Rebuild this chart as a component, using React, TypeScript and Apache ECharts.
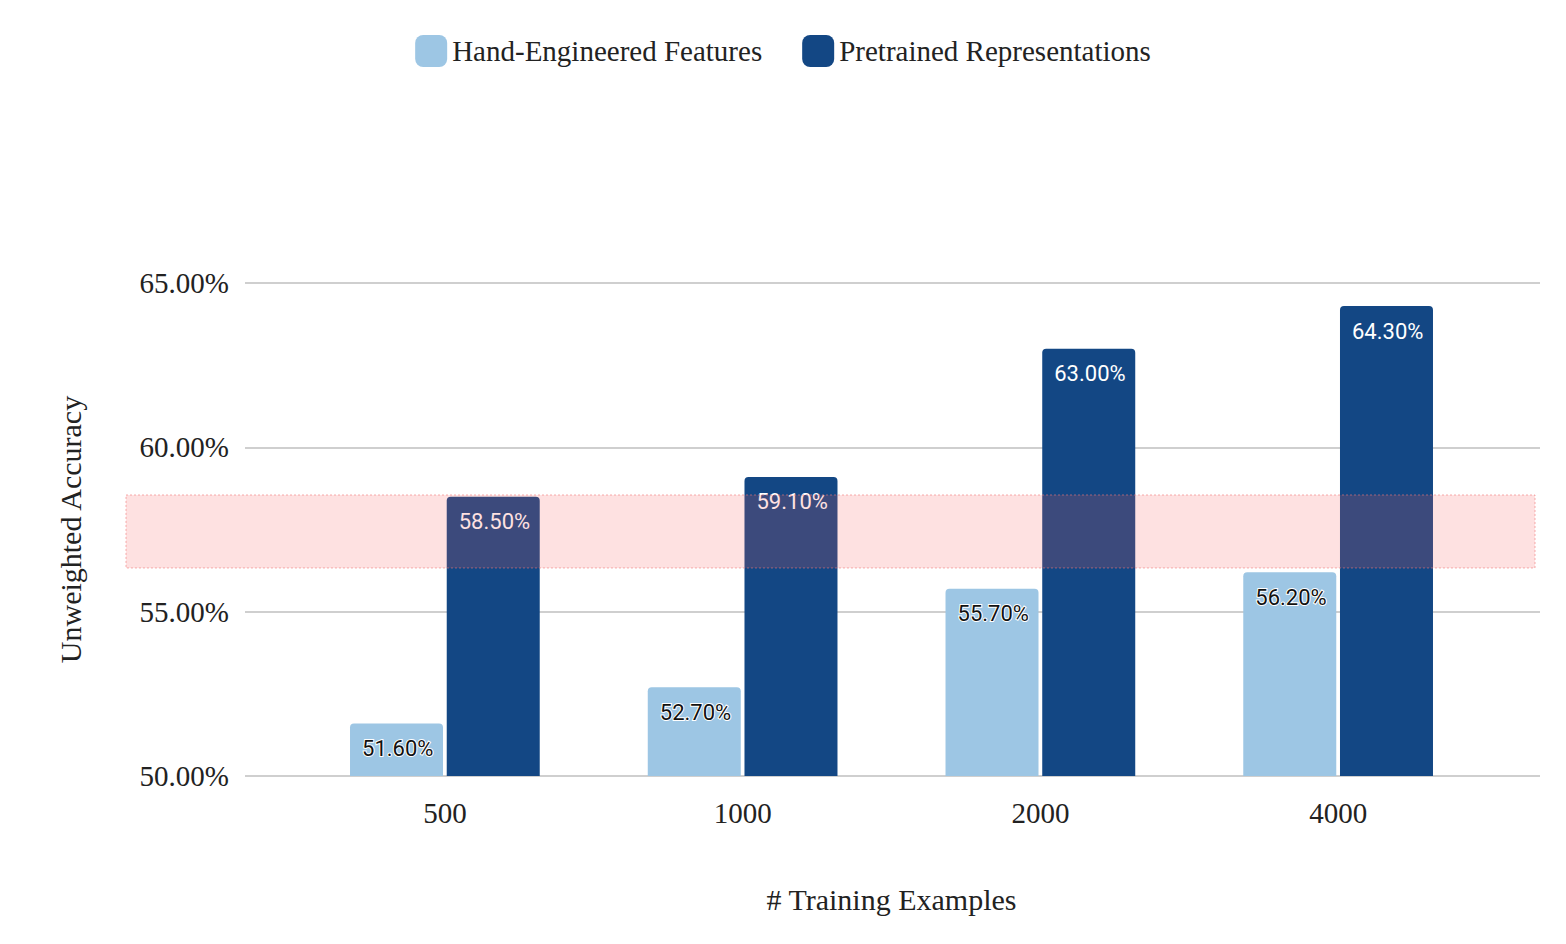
import { useEffect, useRef } from "react";
import * as echarts from "echarts";

const categories = ["500", "1000", "2000", "4000"];
const handEngineered = [51.6, 52.7, 55.7, 56.2];
const pretrained = [58.5, 59.1, 63.0, 64.3];
const bandRange = [56.33, 58.55];

const serif = "'Liberation Serif', 'DejaVu Serif', serif";

export default function App() {
  const ref = useRef<HTMLDivElement>(null);

  useEffect(() => {
    if (!ref.current) return;
    const chart = echarts.init(ref.current, null, { renderer: "svg" });
    const label = (color: string, border: string) => ({
      show: true,
      position: "insideTopLeft",
      distance: 14,
      offset: [-2, 0],
      fontFamily: "Roboto",
      fontSize: 22,
      color,
      textBorderColor: border,
      textBorderWidth: 2,
      formatter: (p: any) => p.value.toFixed(2) + "%",
    });
    chart.setOption({
      animation: false,
      legend: {
        top: 22,
        left: "center",
        itemWidth: 32,
        itemHeight: 32,
        itemGap: 40,
        textStyle: { fontFamily: serif, fontSize: 29, color: "#222" },
        data: ["Hand-Engineered Features", "Pretrained Representations"],
      },
      grid: [
        { left: 288, right: 71, top: 275, bottom: 160 },
        { left: 237, right: 18, top: 275, bottom: 160 },
      ],
      xAxis: [
        {
          type: "category",
          gridIndex: 0,
          data: categories,
          axisLine: { show: false },
          axisTick: { show: false },
          axisLabel: { fontFamily: serif, fontSize: 29, color: "#222", margin: 22 },
          name: "# Training Examples",
          nameLocation: "middle",
          nameGap: 108,
          nameTextStyle: { fontFamily: serif, fontSize: 30, color: "#222" },
        },
        { type: "category", gridIndex: 1, data: [""], show: false },
      ],
      yAxis: [
        { type: "value", gridIndex: 0, min: 50, max: 65, interval: 5, show: false },
        {
          type: "value",
          gridIndex: 1,
          min: 50,
          max: 65,
          interval: 5,
          axisLabel: {
            fontFamily: serif,
            fontSize: 29,
            color: "#222",
            margin: 16,
            formatter: (v: number) => v.toFixed(2) + "%",
          },
          splitLine: { lineStyle: { color: "#cfcfcf", width: 2 } },
          name: "Unweighted Accuracy",
          nameLocation: "middle",
          nameGap: 160,
          nameTextStyle: { fontFamily: serif, fontSize: 30, color: "#222" },
        },
      ],
      series: [
        {
          name: "Hand-Engineered Features",
          type: "bar",
          data: handEngineered,
          barWidth: 93,
          barGap: "4%",
          itemStyle: { color: "#9dc6e4", borderRadius: [4, 4, 0, 0] },
          label: label("#111", "#fff"),
        },
        {
          name: "Pretrained Representations",
          type: "bar",
          data: pretrained,
          barWidth: 93,
          itemStyle: { color: "#134784", borderRadius: [4, 4, 0, 0] },
          label: label("#fff", "#134784"),
          z: 3,
        },
      ],
    });
    const yTop = chart.convertToPixel({ yAxisIndex: 0 }, bandRange[1]) as number;
    const yBot = chart.convertToPixel({ yAxisIndex: 0 }, bandRange[0]) as number;
    chart.setOption({
      graphic: [
        {
          type: "rect",
          z: 100,
          shape: { x: 118, y: yTop, width: 1409, height: yBot - yTop },
          style: {
            fill: "rgba(250,90,90,0.18)",
            stroke: "rgba(240,120,120,0.6)",
            lineWidth: 1,
            lineDash: [2, 2],
          },
        },
      ],
    });
    return () => chart.dispose();
  }, []);

  return <div ref={ref} style={{ width: 1550, height: 928 }} />;
}
